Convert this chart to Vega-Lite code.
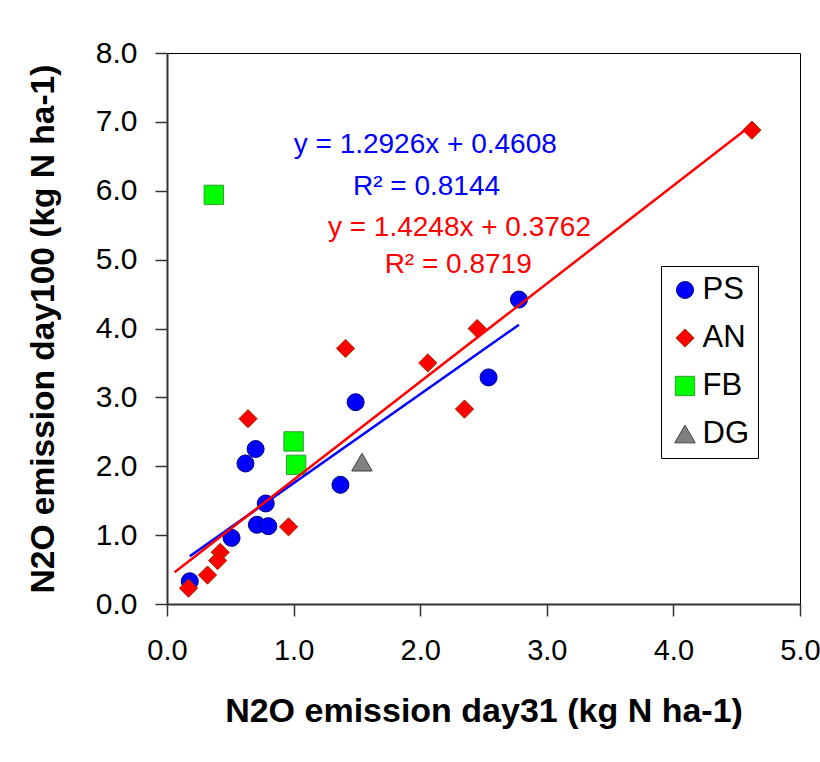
{
  "$schema": "https://vega.github.io/schema/vega-lite/v6.json",
  "autosize": "none",
  "width": 633,
  "height": 551,
  "padding": {"left": 167, "top": 53, "right": 20, "bottom": 158},
  "background": "white",
  "config": {
    "view": {"stroke": "black", "strokeWidth": 1},
    "font": "Liberation Sans",
    "axis": {"grid": false, "domainColor": "#333333", "domainWidth": 2, "tickColor": "#333333", "tickWidth": 1.5, "tickSize": 12, "labelColor": "black", "titleColor": "black", "labelFont": "Liberation Sans", "titleFont": "Liberation Sans", "titleFontWeight": "bold"}
  },
  "datasets": {
    "points": [
      {"series": "PS", "day31": 2.78, "day100": 4.42},
      {"series": "PS", "day31": 2.54, "day100": 3.29},
      {"series": "PS", "day31": 1.49, "day100": 2.93},
      {"series": "PS", "day31": 0.70, "day100": 2.25},
      {"series": "PS", "day31": 0.62, "day100": 2.04},
      {"series": "PS", "day31": 1.37, "day100": 1.73},
      {"series": "PS", "day31": 0.78, "day100": 1.46},
      {"series": "PS", "day31": 0.71, "day100": 1.15},
      {"series": "PS", "day31": 0.80, "day100": 1.13},
      {"series": "PS", "day31": 0.51, "day100": 0.96},
      {"series": "PS", "day31": 0.18, "day100": 0.33},
      {"series": "AN", "day31": 4.62, "day100": 6.88},
      {"series": "AN", "day31": 2.45, "day100": 4.00},
      {"series": "AN", "day31": 1.41, "day100": 3.71},
      {"series": "AN", "day31": 2.06, "day100": 3.50},
      {"series": "AN", "day31": 2.35, "day100": 2.83},
      {"series": "AN", "day31": 0.64, "day100": 2.69},
      {"series": "AN", "day31": 0.96, "day100": 1.12},
      {"series": "AN", "day31": 0.42, "day100": 0.75},
      {"series": "AN", "day31": 0.40, "day100": 0.63},
      {"series": "AN", "day31": 0.32, "day100": 0.42},
      {"series": "AN", "day31": 0.17, "day100": 0.23},
      {"series": "FB", "day31": 0.37, "day100": 5.94},
      {"series": "FB", "day31": 1.00, "day100": 2.36},
      {"series": "FB", "day31": 1.02, "day100": 2.02},
      {"series": "DG", "day31": 1.54, "day100": 2.06}
    ],
    "fits": [
      {"fit": "PS", "day31": 0.18, "day100": 0.694},
      {"fit": "PS", "day31": 2.78, "day100": 4.054},
      {"fit": "ALL", "day31": 0.06, "day100": 0.462},
      {"fit": "ALL", "day31": 4.62, "day100": 6.959}
    ],
    "labels": [
      {"fit": "PS", "day31": 2.04, "day100": 6.66, "text": "y = 1.2926x + 0.4608"},
      {"fit": "PS", "day31": 2.05, "day100": 6.05, "text": "R² = 0.8144"},
      {"fit": "ALL", "day31": 2.31, "day100": 5.46, "text": "y = 1.4248x + 0.3762"},
      {"fit": "ALL", "day31": 2.30, "day100": 4.92, "text": "R² = 0.8719"}
    ]
  },
  "encoding": {
    "x": {"field": "day31", "type": "quantitative", "scale": {"domain": [0, 5], "nice": false},
      "axis": {"values": [0, 1, 2, 3, 4, 5], "format": ".1f", "labelFontSize": 29, "labelPadding": 20, "title": "N2O emission day31 (kg N ha-1)", "titleFontSize": 34, "titlePadding": 29, "labelFlush": false}},
    "y": {"field": "day100", "type": "quantitative", "scale": {"domain": [0, 8], "nice": false},
      "axis": {"values": [0, 1, 2, 3, 4, 5, 6, 7, 8], "format": ".1f", "labelFontSize": 30, "labelPadding": 18, "title": "N2O emission day100 (kg N ha-1)", "titleFontSize": 33.5, "titlePadding": 35, "labelFlush": false}}
  },
  "layer": [
    {
      "data": {"name": "points"},
      "mark": {"type": "point", "filled": true, "strokeWidth": 1, "opacity": 1},
      "encoding": {
        "fill": {"field": "series", "type": "nominal", "scale": {"domain": ["PS", "AN", "FB", "DG"], "range": ["#0000ff", "#ff0000", "#00ff00", "#808080"]},
          "legend": {"title": null, "orient": "none", "legendX": 494, "legendY": 213, "strokeColor": "black", "fillColor": "white", "padding": 8.5, "labelFontSize": 31, "labelFont": "Liberation Sans", "labelColor": "black", "rowPadding": 16, "labelOffset": 2, "symbolStrokeWidth": 1}},
        "stroke": {"field": "series", "type": "nominal", "scale": {"domain": ["PS", "AN", "FB", "DG"], "range": ["#000080", "#993300", "#339933", "#404040"]}},
        "shape": {"field": "series", "type": "nominal", "scale": {"domain": ["PS", "AN", "FB", "DG"], "range": ["circle", "diamond", "square", "triangle-up"]}},
        "size": {"field": "series", "type": "nominal", "scale": {"domain": ["PS", "AN", "FB", "DG"], "range": [289, 420, 216, 256]}}
      }
    },
    {
      "data": {"name": "fits"},
      "transform": [{"filter": "datum.fit === 'PS'"}],
      "mark": {"type": "line", "color": "#0000ff", "strokeWidth": 2.5},
      "encoding": {}
    },
    {
      "data": {"name": "fits"},
      "transform": [{"filter": "datum.fit === 'ALL'"}],
      "mark": {"type": "line", "color": "#ff0000", "strokeWidth": 2.5},
      "encoding": {}
    },
    {
      "data": {"name": "labels"},
      "transform": [{"filter": "datum.fit === 'PS'"}],
      "mark": {"type": "text", "color": "#0000ff", "fontSize": 28, "font": "Liberation Sans", "align": "center", "baseline": "middle"},
      "encoding": {"text": {"field": "text"}}
    },
    {
      "data": {"name": "labels"},
      "transform": [{"filter": "datum.fit === 'ALL'"}],
      "mark": {"type": "text", "color": "#ff0000", "fontSize": 28, "font": "Liberation Sans", "align": "center", "baseline": "middle"},
      "encoding": {"text": {"field": "text"}}
    }
  ]
}
